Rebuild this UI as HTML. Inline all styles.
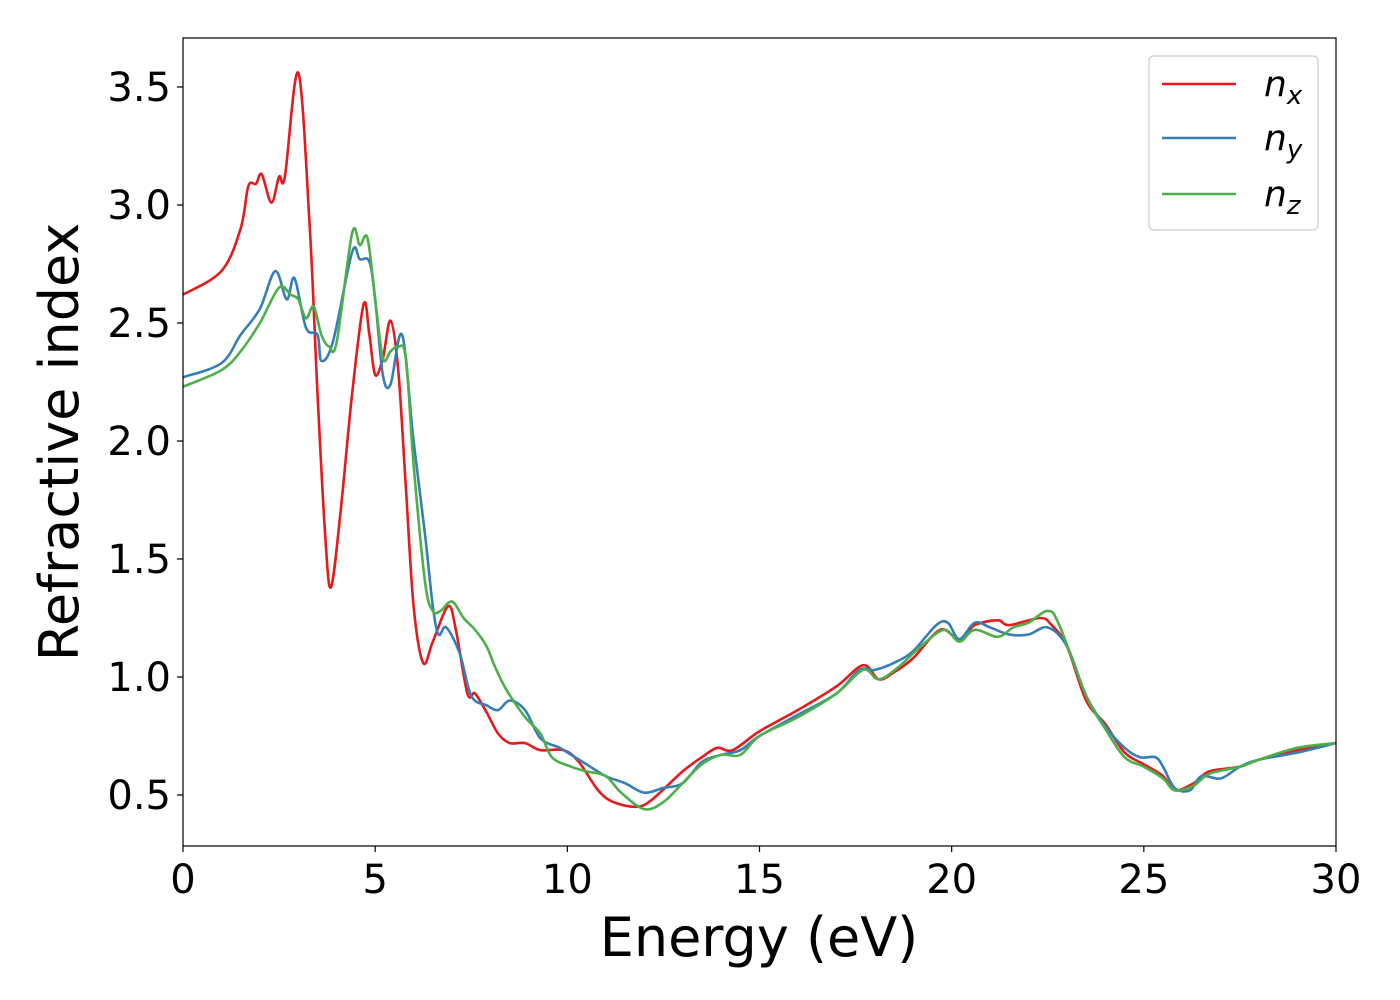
<!DOCTYPE html>
<html><head><meta charset="utf-8"><style>
body{margin:0;background:#fff}
svg{display:block;font-family:"DejaVu Sans","Liberation Sans",sans-serif}
</style></head><body>
<svg width="1400" height="1000">
<g id="plot"></g>
</svg>
<script>
const redE=[0,1,1.5,1.7,1.9,2.05,2.3,2.5,2.65,3.0,3.3,3.5,3.7,3.85,4.1,4.4,4.7,4.85,5.0,5.2,5.4,5.6,5.8,6.0,6.25,6.5,6.9,7.1,7.4,7.6,7.9,8.2,8.5,8.9,9.3,9.9,10.3,10.8,11.2,11.8,12.2,13,13.5,13.9,14.3,15,16,17,17.7,18.1,18.5,19,19.7,20.2,20.6,21.2,21.5,22.3,22.6,23,23.5,24,24.5,25,25.5,25.8,26.3,26.7,27.5,28,29,30];
const redN=[2.62,2.72,2.9,3.08,3.09,3.13,3.01,3.12,3.12,3.56,2.9,2.2,1.6,1.38,1.7,2.2,2.58,2.45,2.28,2.35,2.51,2.3,1.8,1.3,1.06,1.15,1.3,1.2,0.93,0.93,0.85,0.76,0.72,0.72,0.69,0.69,0.64,0.52,0.47,0.45,0.48,0.6,0.66,0.7,0.69,0.77,0.86,0.96,1.05,0.99,1.02,1.08,1.2,1.16,1.22,1.24,1.22,1.25,1.22,1.13,0.9,0.8,0.68,0.63,0.58,0.52,0.55,0.6,0.62,0.65,0.69,0.72];
const blueE=[0,1,1.5,2.0,2.4,2.7,2.9,3.2,3.5,3.6,3.9,4.4,4.6,4.85,5.0,5.2,5.4,5.7,6.0,6.3,6.5,6.65,6.85,7.2,7.5,7.9,8.2,8.5,8.9,9.3,9.8,10.2,10.5,11.0,11.5,12,12.5,13,13.5,14,14.5,15,16,17,17.6,18,18.5,19,19.6,19.9,20.2,20.6,21,21.5,22,22.5,23,23.5,24,24.5,24.9,25.3,25.5,25.8,26.2,26.5,27,27.5,28,29,30];
const blueN=[2.27,2.33,2.45,2.56,2.72,2.6,2.69,2.48,2.45,2.34,2.42,2.8,2.77,2.76,2.6,2.28,2.24,2.45,2.0,1.6,1.3,1.18,1.21,1.1,0.92,0.88,0.86,0.9,0.86,0.74,0.7,0.66,0.63,0.58,0.55,0.51,0.53,0.55,0.64,0.67,0.69,0.75,0.84,0.93,1.03,1.03,1.06,1.11,1.22,1.23,1.16,1.23,1.21,1.18,1.18,1.21,1.13,0.92,0.79,0.7,0.66,0.66,0.62,0.53,0.52,0.58,0.57,0.62,0.65,0.68,0.72];
const greenE=[0,1,1.5,2.0,2.5,2.8,3.0,3.2,3.4,3.6,3.8,4.0,4.4,4.6,4.8,5.0,5.2,5.4,5.6,5.8,6.0,6.3,6.5,6.7,7.0,7.3,7.6,7.9,8.1,8.4,8.9,9.3,9.6,10.1,10.5,11,11.4,12,12.5,13,13.5,14,14.5,15,16,17,17.7,18.1,18.6,19.2,19.8,20.2,20.6,21.2,21.6,22,22.5,22.8,23.5,24,24.5,25,25.5,25.8,26.3,26.7,27.5,28,29,30];
const greenN=[2.23,2.3,2.38,2.5,2.65,2.62,2.6,2.52,2.57,2.45,2.4,2.42,2.88,2.83,2.86,2.6,2.35,2.38,2.4,2.35,1.9,1.4,1.28,1.28,1.32,1.25,1.2,1.13,1.05,0.95,0.83,0.76,0.66,0.62,0.6,0.58,0.51,0.44,0.47,0.55,0.63,0.67,0.67,0.75,0.83,0.93,1.03,0.99,1.04,1.13,1.2,1.15,1.2,1.17,1.21,1.23,1.28,1.22,0.92,0.78,0.66,0.62,0.57,0.52,0.54,0.59,0.62,0.65,0.7,0.72];
const xTicks=[0,5,10,15,20,25,30];
const yTicks=[0.5,1.0,1.5,2.0,2.5,3.0,3.5];
const L=183,R=1336,T=38,B=846;
const xs=e=>L+(e-0)/30*(R-L);
const ys=n=>795-(n-0.5)*236;
const NS="http://www.w3.org/2000/svg";
const g=document.getElementById('plot');
function mk(t,a,txt){const e=document.createElementNS(NS,t);for(const k in a)e.setAttribute(k,a[k]);if(txt!=null)e.textContent=txt;g.appendChild(e);return e;}
function smooth(E,N){const p=E.map((e,i)=>[xs(e),ys(N[i])]);let d=`M${p[0][0]},${p[0][1]}`;
for(let i=0;i<p.length-1;i++){const p0=p[Math.max(i-1,0)],p1=p[i],p2=p[i+1],p3=p[Math.min(i+2,p.length-1)];
d+=`C${p1[0]+(p2[0]-p0[0])/6},${p1[1]+(p2[1]-p0[1])/6} ${p2[0]-(p3[0]-p1[0])/6},${p2[1]-(p3[1]-p1[1])/6} ${p2[0]},${p2[1]}`;}return d;}
const series=[[redE,redN,'#e41a1c','series-nx'],[blueE,blueN,'#377eb8','series-ny'],[greenE,greenN,'#4daf4a','series-nz']];
const cp=mk('clipPath',{id:'cp'});const cr=document.createElementNS(NS,'rect');cr.setAttribute('x',L);cr.setAttribute('y',T);cr.setAttribute('width',R-L);cr.setAttribute('height',B-T);cp.appendChild(cr);
series.forEach(s=>{const p=mk('path',{d:smooth(s[0],s[1]),fill:'none',stroke:s[2],'stroke-width':2.6,'clip-path':'url(#cp)'});

});
const fr=mk('rect',{x:L,y:T,width:R-L,height:B-T,fill:'none',stroke:'#000','stroke-width':1.2});


xTicks.forEach(t=>{mk('line',{x1:xs(t),x2:xs(t),y1:B,y2:B+6,stroke:'#000','stroke-width':1.2});
const tx=mk('text',{x:xs(t),y:B+47,'font-size':40,'text-anchor':'middle'},String(t));

});
yTicks.forEach(t=>{mk('line',{x1:L-6,x2:L,y1:ys(t),y2:ys(t),stroke:'#000','stroke-width':1.2});
const tx=mk('text',{x:L-12,y:ys(t)+14,'font-size':40,'text-anchor':'end'},t.toFixed(1));

});
const xt=mk('text',{x:759,y:956,'font-size':54,'text-anchor':'middle'},'Energy (eV)');


const yt=mk('text',{x:0,y:0,'font-size':54,'text-anchor':'middle',transform:'translate(78,442) rotate(-90)'},'Refractive index');


const lg=mk('rect',{x:1149,y:56,width:169,height:174,rx:5,fill:'#fff',stroke:'#ccc','stroke-width':1.2});


const subs=['x','y','z'];const ly=[84,138,194];
series.forEach((s,i)=>{mk('line',{x1:1162,x2:1236,y1:ly[i],y2:ly[i],stroke:s[2],'stroke-width':2.6});
const t=mk('text',{x:1264,y:ly[i]+12,'font-size':36,'font-style':'italic'});


t.innerHTML='n<tspan font-size="26" dy="8">'+subs[i]+'</tspan>';});
</script>
</body></html>
